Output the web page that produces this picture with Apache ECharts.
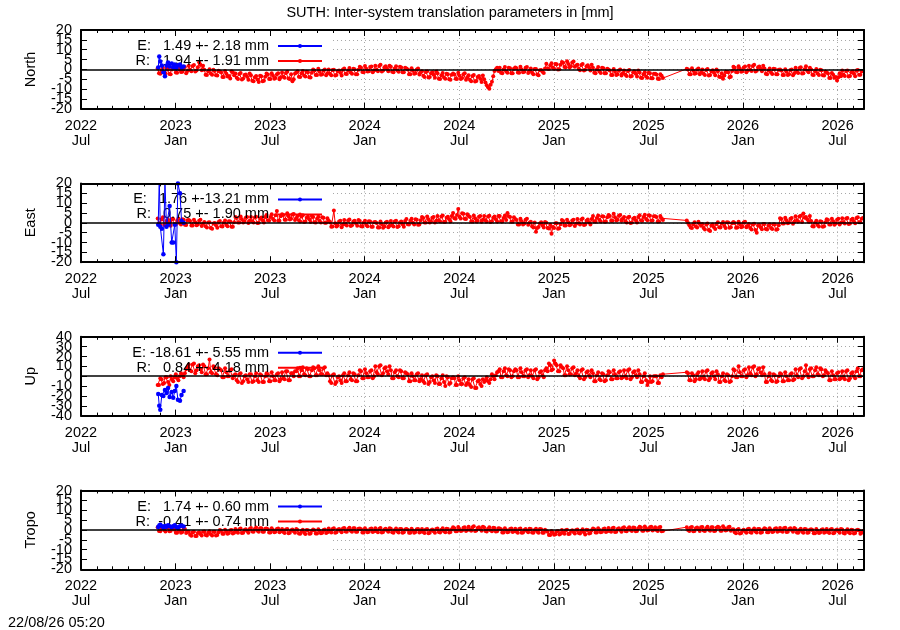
<!DOCTYPE html>
<html><head><meta charset="utf-8">
<script src="https://cdn.jsdelivr.net/npm/echarts@6/dist/echarts.min.js"></script>
<style>html,body{margin:0;padding:0;background:#fff}#c{width:900px;height:630px}</style>
</head><body><div id="c"></div>
<script>
const FONT = "'Liberation Sans', Arial, Helvetica, sans-serif";
const chartTitle = 'SUTH: Inter-system translation parameters in [mm]';
const stamp = '22/08/26 05:20';
const panelNames = ['North', 'East', 'Up', 'Tropo'];
const monthNames = ['Jan','Feb','Mar','Apr','May','Jun','Jul','Aug','Sep','Oct','Nov','Dec'];
const axisStart = '2022-07-01';
const axisEndDays = 1511;
const tickStepDays = 182.5;
const yRanges = [[-20, 20, 5], [-20, 20, 5], [-40, 40, 10], [-20, 20, 5]];
const eLabels = ['E:   1.49 +- 2.18 mm', 'E:   1.76 +-13.21 mm', 'E: -18.61 +- 5.55 mm', 'E:   1.74 +- 0.60 mm'];
const rLabels = ['R:  -1.94 +- 1.91 mm', 'R:   0.75 +- 1.90 mm', 'R:   0.84 +- 4.18 mm', 'R:  -0.41 +- 0.74 mm'];
const gridMaskEnd = '2023-10-28';

// E (blue) solutions
const eDates = ['2022-11-27','2022-11-29','2022-12-01','2022-12-04','2022-12-07','2022-12-10','2022-12-13','2022-12-16','2022-12-19','2022-12-23','2022-12-26','2022-12-29','2023-01-01','2023-01-04','2023-01-08','2023-01-11','2023-01-15'];
const northE = [1.0,6.5,4.0,2.0,-1.5,-3.5,2.0,3.5,1.5,3.0,1.0,2.5,0.5,2.0,2.5,1.0,1.5];
const eastE  = [-1,22,-2,-3,-16,21,-2,-1,8.5,-10,-10,-1,-20,20,15,1,0];
const upE    = [-18,-30,-34,-19,-20,-14,-17,-12,-21,-16,-22,-15,-10,-24,-25,-19,-15];
const tropoE = [1.5,2.2,2.6,1.9,1.2,2.0,1.6,2.4,1.8,1.3,1.9,2.3,1.5,1.0,1.8,2.2,1.7];

// R (red) solutions: runs of 5-day samples (R1 before / R2 after the 2025 data gap),
// plus the samples lying half-way between them (M1 / M2)
const rStart1 = '2022-11-26';
const rStart2 = '2025-09-12';
const rStepDays = 5;
const northR1 = [0.6,-2.2,0.9,-1.9,-0.1,-2.5, 1.1,-1.6,1.4,-1.3,0.2,-1.9, 1.8,-0.9,2.2,-0.6,3.6,-0.4, -0.2,-2.9,0.1,-2.7,-0.8,-3.1,
 -1.1,-3.9,-0.8,-3.6,-4.6,-1.4, -2.1,-4.9,-1.8,-4.6,-2.6,-5.2, -3.0,-6.0,-3.3,-6.4,-3.5,-5.8, -2.1,-4.9,-1.9,-4.7,-2.4,-5.0,
 -1.6,-4.3,-1.2,-4.9,-6.0,-2.1, -1.0,-3.9,-0.8,-3.6,-1.4,-4.1, -0.1,-2.9,0.3,-2.7,-0.5,-3.0, 0.0,-3.0,-0.2,-2.8,-0.6,-3.1,
 0.4,-2.3,0.7,-2.2,0.1,-2.5, 1.4,-1.3,1.7,-1.1,1.2,-1.4, 1.9,-0.9,2.3,-0.6,1.6,-1.0, 1.3,-1.4,1.6,-1.2,1.0,-1.5,
 0.4,-2.4,0.6,-2.2,-0.1,-2.6, -1.0,-3.8,-0.9,-3.9,-1.5,-4.2, -2.0,-4.9,-1.8,-4.8,-2.4,-5.2, -2.1,-4.8,-1.7,-4.9,-2.5,-5.3,
 -3.0,-6.0,-2.8,-5.9,-3.4,-6.4, -5.0,-8.0,-9.8,-6.3,-0.8,0.8, 0.9,-1.9,1.2,-1.7,0.6,-2.0, 1.0,-1.6,1.4,-1.5,0.8,-1.8,
 0.4,-2.4,0.2,-3.0,-0.3,-1.8, 2.9,0.2,3.1,0.3,2.6,0.1, 3.8,1.2,4.2,1.0,3.5,1.3, 2.4,-0.4,2.7,-0.2,2.1,-0.5,
 0.9,-1.9,1.2,-1.8,0.6,-2.0, -0.1,-2.9,0.2,-2.8,-0.5,-3.1, -0.6,-3.4,-0.3,-3.3,-1.0,-3.6, -1.6,-4.4,-1.4,-4.3,-2.0,-4.5,
 -2.2,-4.8,-2.5,-4.4];
const northM1 = [-2.0,-0.3,-1.4,0.5,-2.3,0.0, 0.6,-1.7,0.0,-1.2,1.2,-0.8, -0.2,1.7,-1.1,1.1,2.4,1.9, -2.7,-1.0,-2.1,-0.2,-3.0,-0.7,
 -1.6,-3.9,-2.2,-3.4,-1.0,-3.0, -4.2,-2.3,-5.1,-2.9,-3.7,-2.1, -5.7,-4.0,-5.1,-3.2,-6.0,-3.7, -2.6,-4.9,-3.2,-4.4,-2.0,-4.0,
 -3.7,-1.8,-4.6,-2.4,-5.0,-1.6, -3.7,-2.0,-3.1,-1.2,-4.0,-1.7, -0.6,-2.9,-1.2,-2.4,0.0,-2.0, -2.2,-0.3,-3.1,-0.9,-1.7,-0.1,
 -2.2,-0.5,-1.6,0.3,-2.5,-0.2, 0.9,-1.4,0.3,-0.9,1.5,-0.5, -0.2,1.7,-1.1,1.1,0.3,1.9, -1.2,0.5,-0.6,1.3,-1.5,0.8,
 -0.1,-2.4,-0.7,-1.9,0.5,-1.5, -3.2,-1.3,-4.1,-1.9,-2.7,-1.1, -4.7,-3.0,-4.1,-2.2,-5.0,-2.7, -2.6,-4.9,-3.2,-4.4,-2.0,-4.0,
 -5.2,-3.3,-6.1,-3.9,-4.7,-3.1, -6.6,-9.0,-7.8,-3.5,0.1,-0.8, -1.7,0.0,-1.1,0.8,-2.0,0.3, 0.6,-1.7,0.0,-1.2,1.2,-0.8,
 -1.7,0.2,-2.6,-0.4,-1.2,0.4, 0.3,2.0,0.9,2.8,0.0,2.3, 3.4,1.1,2.8,1.6,4.0,2.0, 0.3,2.2,-0.6,1.6,0.8,2.4,
 -1.7,0.0,-1.1,0.8,-2.0,0.3, -0.6,-2.9,-1.2,-2.4,0.0,-2.0, -2.7,-0.8,-3.6,-1.4,-2.2,-0.6, -4.2,-2.5,-3.6,-1.7,-4.5,-2.2,
 -2.6,-4.9,-3.2];
const northR2 = [0.3,-2.4,0.6,-2.2,0.0,-2.5, -0.1,-2.8,0.2,-2.9,-0.4,-3.0, -1.0,-3.8,-4.8,-1.3,-1.5,-3.7, 1.3,-1.3,1.6,-1.2,1.0,-1.5,
 1.8,-0.8,2.4,-0.7,1.5,-1.0, 0.4,-2.4,0.5,-2.3,0.2,-2.5, -0.1,-2.9,0.1,-2.8,-0.3,-3.0, 0.9,-1.8,1.1,-1.9,1.6,-1.4,
 -0.1,-2.9,0.2,-2.8,-0.4,-3.1, -1.5,-4.4,-1.8,-4.3,-5.6,-2.0, -0.6,-3.4,-0.5,-3.3,-0.9,-3.5, -0.3,-2.7,-0.9];
const northM2 = [-0.1,-2.4,-0.7,-1.9,0.5,-1.5, -2.2,-0.3,-3.1,-0.9,-1.7,-0.1, -3.7,-2.0,-3.1,-1.2,-4.0,-0.8, 0.9,-1.4,0.3,-0.9,1.5,-0.5,
 -0.2,1.7,-1.1,1.1,0.3,1.9, -2.2,-0.5,-1.6,0.3,-2.5,-0.2, -0.6,-2.9,-1.2,-2.4,0.0,-2.0, -1.2,0.7,-2.1,0.1,-0.7,0.9,
 -2.7,-1.0,-2.1,-0.2,-3.0,-1.2, -2.1,-4.4,-2.7,-3.9,-4.0,-3.5, -2.7,-0.8,-3.6,-1.4,-2.2,-0.6, -2.7,-1.0];
const eastR1 = [2.2,-1.0,2.8,-0.8,1.6,-1.5, 1.9,-0.9,2.2,-0.8,1.6,-1.1, 1.4,-1.4,1.6,-1.3,1.0,-1.6, 0.4,-2.4,0.3,-3.0,-0.1,-2.5,
 0.9,-1.9,1.2,-1.8,0.6,-2.0, 2.9,0.1,3.2,0.2,2.6,-0.1, 3.0,0.2,3.1,0.0,2.7,0.1, 3.9,1.1,4.3,1.2,6.0,1.0,
 4.4,1.6,4.8,1.7,4.2,1.4, 3.4,0.6,3.8,0.7,3.1,0.4, 2.9,0.1,3.1,0.2,2.6,0.0, 1.0,-2.0,6.2,-1.9,0.7,-2.2,
 1.4,-1.4,1.7,-1.3,1.1,-1.5, 0.9,-1.9,1.1,-1.8,0.6,-2.0, 0.4,-2.4,0.6,-2.5,0.1,-2.3, 0.9,-1.9,1.0,-1.8,0.6,-2.0,
 1.9,-0.9,2.1,-0.8,1.6,-0.9, 2.9,0.1,3.2,0.1,2.6,0.2, 3.4,0.6,3.7,0.5,3.1,0.7, 5.0,2.0,7.0,2.2,4.6,1.9,
 3.5,0.6,3.7,0.7,3.1,0.5, 3.4,0.6,3.6,0.8,3.2,0.7, 3.5,0.7,3.7,5.0,3.0,0.6, 1.9,-0.9,2.1,-0.8,1.5,-1.0,
 0.5,-2.4,-4.5,-2.1,0.3,-2.4, 0.0,-2.9,-5.6,-2.6,-0.2,-2.8, 1.4,-1.4,1.6,-1.3,1.2,-1.6, 1.9,-0.9,2.2,-0.9,1.7,-0.8,
 3.4,0.5,3.7,0.7,3.2,0.6, 3.9,1.1,4.6,1.2,3.6,1.0, 2.9,0.1,3.1,0.2,2.6,0.1, 3.8,1.1,4.1,1.3,3.6,1.2,
 3.3,0.7,3.5,1.4];
const eastM1 = [-0.2,1.7,-1.1,1.1,0.3,1.9, -0.7,1.0,-0.1,1.8,-1.0,1.3, 0.9,-1.4,0.3,-0.9,1.5,-0.5, -1.7,0.2,-2.6,-0.4,-1.2,0.4,
 -1.7,0.0,-1.1,0.8,-2.0,0.3, 2.4,0.1,1.8,0.6,3.0,1.0, 0.8,2.7,-0.1,2.1,1.3,2.9, 1.3,3.0,1.9,3.8,1.0,3.3,
 3.9,1.6,3.3,2.1,4.5,2.5, 1.3,3.2,0.4,2.6,1.8,3.4, 0.3,2.0,0.9,2.8,0.0,2.3, 0.4,-1.9,-0.2,-1.4,1.0,-1.0,
 -0.7,1.2,-1.6,0.6,-0.2,1.4, -1.7,0.0,-1.1,0.8,-2.0,0.3, -0.1,-2.4,-0.7,-1.9,0.5,-1.5, -1.2,0.7,-2.1,0.1,-0.7,0.9,
 -0.7,1.0,-0.1,1.8,-1.0,1.3, 2.4,0.1,1.8,0.6,3.0,1.0, 1.3,3.2,0.4,2.6,1.8,3.4, 2.3,4.0,2.9,4.8,2.0,4.3,
 2.9,0.6,2.3,1.1,3.5,1.5, 1.3,3.2,0.4,2.6,1.8,3.4, 0.8,2.5,1.4,3.3,0.5,2.8, 1.4,-0.9,0.8,-0.4,2.0,0.0,
 -1.7,0.2,-2.6,-0.4,-1.2,0.4, -2.7,-1.0,-2.1,-0.2,-3.0,-0.7, 0.9,-1.4,0.3,-0.9,1.5,-0.5, -0.2,1.7,-1.1,1.1,0.3,1.9,
 0.8,2.5,1.4,3.3,0.5,2.8, 3.4,1.1,2.8,1.6,4.0,2.0, 0.8,2.7,-0.1,2.1,1.3,2.9, 1.3,3.0,1.9,3.8,1.0,3.3,
 2.9,0.6,2.3];
const eastR2 = [1.2,-1.2,-2.6,0.3,-2.4,-0.6, -0.6,-3.4,-0.4,-4.2,-0.9,-3.2, 0.3,-2.4,0.4,-2.6,0.1,-2.3, 0.4,-2.5,0.5,-2.3,0.2,-2.2,
 -0.6,-3.4,-0.5,-5.0,-1.1,-3.3, -0.6,-3.4,-0.7,-3.2,-0.9,-3.3, 2.3,-0.4,2.6,-0.2,2.1,-0.5, 3.3,0.6,3.6,4.7,3.0,0.5,
 0.9,-1.9,1.0,-1.9,0.5,-1.8, 1.8,-0.9,2.0,-1.0,1.6,-0.8, 2.3,-0.4,2.5,-0.3,2.1,-0.2, 2.8,0.3,2.4];
const eastM2 = [-0.1,-2.4,-0.7,-1.9,0.5,-1.5, -2.7,-0.8,-3.6,-1.4,-2.2,-0.6, -2.2,-0.5,-1.6,0.3,-2.5,-0.2, -0.1,-2.4,-0.7,-1.9,0.5,-1.5,
 -2.7,-0.8,-3.6,-1.4,-2.2,-0.6, -3.2,-1.5,-2.6,-0.7,-3.5,-1.2, 1.9,-0.4,1.3,0.1,2.5,0.5, 1.3,3.2,0.4,2.6,1.8,3.4,
 -1.7,0.0,-1.1,0.8,-2.0,0.3, 1.4,-0.9,0.8,-0.4,2.0,0.0, 0.3,2.2,-0.6,1.6,0.8,2.4, 0.3,2.0];
const upR1 = [-9,-2,-8,-1,-6,0, -5,2,-4,3,-1,7, 12,5,13,6,11,4, 10,2,17,3,9,1,
 7,-1,8,0,6,-2, 2,-6,3,-5,1,-6, 2,-5,3,-6,1,-6, 3,-5,4,-4,2,-5,
 4,-3,5,-4,3,5, 8,0,9,1,7,0, 9,1,10,2,8,1, 1,-7,2,-6,0,-7,
 3,-5,4,-4,2,-5, 6,-2,7,-1,5,-2, 10,2,11,3,9,2, 6,-2,6,-1,5,-2,
 3,-5,3,-4,2,-5, 1,-7,2,-6,0,-7, 0,-8,1,-10,-1,-7, -1,-9,0,-8,-2,-9,
 -3,-11,-2,-12,-4,-10, -6,-1,-7,2,-3,4, 7,-1,8,0,6,0, 7,-1,8,0,6,-1,
 6,-2,7,-1,5,-1, 8,13,6,16,11,5, 9,1,10,2,8,1, 6,-2,7,-1,5,-1,
 3,-5,4,-4,2,-4, 5,-3,6,-2,4,-2, 6,-2,7,-1,5,-1, 2,-6,3,-9,0,-5,
 0,-7,1,2];
const upM1 = [-9,-3,-7,-1,-9,-3, -1,-2,0,1,3,9, 6,12,3,10,7,12, 2,8,4,10,2,8,
 6,-1,4,0,7,1, -4,2,-7,0,-3,2, -6,0,-4,2,-6,0, 2,-5,0,-4,3,-3,
 -2,5,-4,3,0,5, 0,6,2,8,0,6, 8,1,6,2,9,3, -5,1,-8,-1,-4,1,
 -5,1,-3,3,-5,1, 5,-2,3,-1,6,0, 4,10,1,8,5,10, -2,4,0,6,-2,4,
 2,-5,0,-4,3,-3, -5,1,-8,-1,-4,1, -8,-2,-6,0,-8,-2, -2,-9,-4,-8,-1,-7,
 -9,-3,-12,-5,-8,-3, -4,-5,-3,0,1,5, -1,5,1,7,-1,5, 6,-1,4,0,7,1,
 0,6,-3,4,1,6, 5,11,7,13,5,11, 8,1,6,2,9,3, 0,6,-3,4,1,6,
 -5,1,-3,3,-5,1, 4,-3,2,-2,5,-1, 0,6,-3,4,1,6, -6,0,-4,-6,-6,0,
 0,-7,-1];
const upR2 = [4,-4,3,-5,2,-3, 5,-3,6,-2,4,-3, 2,-6,3,-5,1,-5, 7,-1,10,0,6,-1,
 9,1,10,2,8,1, 2,-6,3,-5,1,-5, 3,-5,4,-4,2,-4, 7,-1,8,0,11,-1,
 8,0,9,1,7,1, 4,-4,5,-3,3,-3, 5,-3,6,-2,4,-2, 8,0,7];
const upM2 = [3,-4,1,-3,4,-2, -1,5,-4,3,0,5, -6,0,-4,2,-6,0, 6,-1,4,0,7,1,
 3,9,0,7,4,9, -6,0,-4,2,-6,0, 2,-5,0,-4,3,-3, 1,7,-2,5,2,7,
 0,6,2,8,0,6, 3,-4,1,-3,4,-2, -1,5,-4,3,0,5, 0,6];
const tropoR1 = [1.3,-0.7,1.5,-0.8,1.1,-0.6, 0.5,-1.5,0.6,-1.4,0.3,-1.6, -1.0,-3.0,-0.9,-3.1,-1.2,-2.8, -0.8,-2.8,-0.7,-2.9,-1.0,-2.6,
 0.0,-2.0,0.1,-1.9,-0.2,-1.8, 0.5,-1.5,0.7,-1.4,0.3,-1.4, 1.0,-1.0,1.2,-0.9,0.8,-0.9, 0.7,-1.3,0.8,-1.2,0.5,-1.2,
 0.4,-1.6,0.5,-1.5,0.2,-1.5, 0.0,-2.0,0.1,-2.1,-0.2,-1.8, 0.2,-1.8,0.3,-1.7,0.0,-1.6, 0.7,-1.3,0.9,-1.2,0.5,-1.2,
 1.0,-1.0,1.1,-0.9,0.8,-0.9, 0.7,-1.3,0.8,-1.2,0.5,-1.1, 0.8,-1.2,1.0,-1.1,0.6,-1.0, 0.6,-1.4,0.7,-1.3,0.4,-1.2,
 0.5,-1.5,0.6,-1.4,0.3,-1.3, 0.4,-1.6,0.5,-1.5,0.2,-1.4, 0.7,-1.3,0.8,-1.2,0.5,-1.1, 1.3,-0.7,1.5,-0.6,1.1,-0.6,
 1.6,-0.4,1.8,-0.3,1.4,-0.4, 1.2,-0.8,1.3,-0.7,1.0,-0.7, 0.7,-1.3,0.8,-1.2,0.5,-1.1, 0.6,-1.4,0.7,-1.3,0.4,-1.2,
 0.5,-1.5,0.6,-1.4,0.3,-1.4, -0.6,-2.6,-0.5,-2.5,-0.8,-2.3, 0.0,-2.0,0.1,-1.9,-0.2,-1.8, 0.2,-1.8,0.3,-2.3,0.0,-1.6,
 0.7,-1.3,0.8,-1.2,0.5,-1.1, 1.0,-1.0,1.1,-0.9,0.8,-0.9, 1.3,-0.7,1.4,-0.6,1.1,-0.6, 1.6,-0.4,1.7,-0.3,1.4,-0.3,
 1.4,-0.6,1.5,-0.5];
const tropoM1 = [-0.5,0.7,-0.1,1.2,-0.7,0.9, 0.1,-1.5,-0.3,-1.1,0.5,-0.9, -2.5,-1.2,-3.1,-1.6,-2.1,-1.0, -2.6,-1.4,-2.2,-0.9,-2.8,-1.2,
 -0.4,-2.0,-0.8,-1.6,0.0,-1.4, -1.0,0.3,-1.6,-0.1,-0.6,0.5, -0.8,0.4,-0.4,0.9,-1.0,0.6, 0.3,-1.3,-0.1,-0.9,0.7,-0.7,
 -1.1,0.2,-1.7,-0.2,-0.7,0.4, -1.8,-0.6,-1.4,-0.1,-2.0,-0.4, -0.2,-1.8,-0.6,-1.4,0.2,-1.2, -0.8,0.5,-1.4,0.1,-0.4,0.7,
 -0.8,0.4,-0.4,0.9,-1.0,0.6, 0.3,-1.3,-0.1,-0.9,0.7,-0.7, -0.7,0.6,-1.3,0.2,-0.3,0.8, -1.2,0.0,-0.8,0.5,-1.4,0.2,
 0.1,-1.5,-0.3,-1.1,0.5,-0.9, -1.1,0.2,-1.7,-0.2,-0.7,0.4, -1.1,0.1,-0.7,0.6,-1.3,0.3, 0.9,-0.7,0.5,-0.3,1.3,-0.1,
 0.1,1.4,-0.5,1.0,0.5,1.6, -0.6,0.6,-0.2,1.1,-0.8,0.8, 0.3,-1.3,-0.1,-0.9,0.7,-0.7, -0.9,0.4,-1.5,0.0,-0.5,0.6,
 -1.3,-0.1,-0.9,0.4,-1.5,0.1, -1.0,-2.6,-1.4,-2.2,-0.6,-2.0, -1.5,-0.2,-2.1,-0.6,-1.1,0.0, -1.6,-0.4,-1.2,0.1,-1.8,-0.2,
 0.3,-1.3,-0.1,-0.9,0.7,-0.7, -0.5,0.8,-1.1,0.4,-0.1,1.0, -0.5,0.7,-0.1,1.2,-0.7,0.9, 1.2,-0.4,0.8,0.0,1.6,0.2,
 -0.1,1.2,-0.7];
const tropoR2 = [1.4,-0.6,1.5,-0.5,1.2,-0.5, 1.5,-0.5,1.6,-0.4,1.3,-0.4, 1.6,-0.4,1.8,-0.3,1.4,-0.4, 0.3,-1.7,0.4,-1.6,0.1,-1.5,
 0.6,-1.4,0.7,-1.3,0.4,-1.2, 0.8,-1.2,0.9,-1.1,0.6,-1.0, 1.0,-1.0,1.1,-0.9,0.8,-0.9, 0.5,-1.5,0.6,-1.4,0.3,-1.3,
 0.3,-1.7,0.4,-1.6,0.1,-1.5, 0.4,-1.6,0.5,-1.5,0.2,-1.4, 0.2,-1.8,0.3,-1.7,0.0,-1.6, 0.1,-1.9,-0.6];
const tropoM2 = [-0.1,1.2,-0.7,0.8,0.3,1.4, -0.3,0.9,0.1,1.4,-0.5,1.1, 1.2,-0.4,0.8,0.0,1.6,0.2, -1.2,0.1,-1.8,-0.3,-0.8,0.3,
 -1.2,0.0,-0.8,0.5,-1.4,0.2, 0.4,-1.2,0.0,-0.8,0.8,-0.6, -0.5,0.8,-1.1,0.4,-0.1,1.0, -1.3,-0.1,-0.9,0.4,-1.5,0.1,
 -0.1,-1.7,-0.5,-1.3,0.3,-1.1, -1.1,0.2,-1.7,-0.2,-0.7,0.4, -1.6,-0.4,-1.2,0.1,-1.8,-0.2, -0.3,-1.5];

// ---- build ----
const DAY = 86400000;
const base = Date.parse(axisStart + 'T00:00:00Z');
const toDay = s => (Date.parse(s + 'T00:00:00Z') - base) / DAY;
const run = (start, offset, vals) => { const d0 = toDay(start) + offset; return vals.map((v, i) => [d0 + i * rStepDays, v]); };
const redPairs = (r1, m1, r2, m2) =>
  run(rStart1, 0, r1).concat(run(rStart1, rStepDays / 2, m1), run(rStart2, 0, r2), run(rStart2, rStepDays / 2, m2))
    .sort((a, b) => a[0] - b[0]);
const eDays = eDates.map(toDay);
const bluePairs = vals => vals.map((v, i) => [eDays[i], v]);

const panels = [
  {e: northE, r: redPairs(northR1, northM1, northR2, northM2)},
  {e: eastE, r: redPairs(eastR1, eastM1, eastR2, eastM2)},
  {e: upE, r: redPairs(upR1, upM1, upR2, upM2)},
  {e: tropoE, r: redPairs(tropoR1, tropoM1, tropoR2, tropoM2)}
];

const gridTops = [30, 183.4, 336.8, 490.5];
const gridH = 78.8;
const txt = {color: '#000', fontFamily: FONT, fontSize: 14.5};
const gridLine = {color: '#a8a8a8', width: 1, type: [1, 3]};
const frame = {color: '#000', width: 2};
const tickLine = {color: '#000', width: 1};

function xLabel(v) {
  const k = v / tickStepDays;
  if (Math.abs(k - Math.round(k)) > 1e-6) return '';
  const t = new Date(base + (v + 15) * DAY);
  return t.getUTCFullYear() + '\n' + monthNames[t.getUTCMonth()];
}
// y tick labels overlap in the original; split them over two axes (even / odd steps)
const yLabel = (ymin, ystep, parity) => v => {
  const k = Math.round((v - ymin) / ystep);
  return (k % 2 === parity) ? String(v) : '';
};

const grid = [], xAxis = [], yAxis = [], series = [], legend = [];
panels.forEach((p, i) => {
  const [ymin, ymax, ystep] = yRanges[i];
  grid.push({left: 81, right: 36, top: gridTops[i], height: gridH, show: false, containLabel: false, outerBoundsMode: 'none'});
  const xb = {type: 'value', gridIndex: i, min: 0, max: axisEndDays, interval: tickStepDays, silent: true};
  xAxis.push(Object.assign({}, xb, {position: 'bottom', z: 0,
    axisLine: {show: false}, axisTick: {show: false},
    splitLine: {show: true, lineStyle: gridLine},
    axisLabel: Object.assign({}, txt, {formatter: xLabel, margin: 9.5, lineHeight: 15, showMaxLabel: false, showMinLabel: true, hideOverlap: false})}));
  ['bottom', 'top'].forEach(pos => xAxis.push(Object.assign({}, xb, {position: pos, z: 6,
    axisLine: {show: true, onZero: false, lineStyle: frame},
    axisTick: {show: true, inside: true, length: 6, lineStyle: tickLine},
    minorTick: {show: true, splitNumber: 6, length: 3, lineStyle: tickLine},
    splitLine: {show: false}, axisLabel: {show: false}})));
  const yb = {type: 'value', gridIndex: i, min: ymin, max: ymax, interval: ystep, silent: true};
  yAxis.push(Object.assign({}, yb, {position: 'left', z: 0,
    name: panelNames[i], nameLocation: 'middle', nameGap: 43, nameTextStyle: txt,
    axisLine: {show: false}, axisTick: {show: false},
    splitLine: {show: true, lineStyle: gridLine},
    axisLabel: Object.assign({}, txt, {margin: 9, hideOverlap: false, showMinLabel: true, showMaxLabel: true, formatter: yLabel(ymin, ystep, 0)})}));
  yAxis.push(Object.assign({}, yb, {position: 'left', z: 6,
    axisLine: {show: true, onZero: false, lineStyle: frame},
    axisTick: {show: true, inside: true, length: 6, lineStyle: tickLine},
    splitLine: {show: false},
    axisLabel: Object.assign({}, txt, {margin: 9, hideOverlap: false, showMinLabel: false, showMaxLabel: false, formatter: yLabel(ymin, ystep, 1)})}));
  yAxis.push(Object.assign({}, yb, {position: 'right', z: 6,
    axisLine: {show: true, onZero: false, lineStyle: frame},
    axisTick: {show: true, inside: true, length: 6, lineStyle: tickLine},
    splitLine: {show: false}, axisLabel: {show: false}}));
  const xi = 3 * i, yi = 3 * i;
  // white backdrop hiding the grid under the key region
  series.push({type: 'line', xAxisIndex: xi, yAxisIndex: yi, data: [], z: 1, silent: true,
    markArea: {silent: true, itemStyle: {color: '#fff', opacity: 1}, label: {show: false},
      data: [[{xAxis: 0, yAxis: ymin}, {xAxis: toDay(gridMaskEnd), yAxis: ymax}]]}});
  series.push({type: 'line', name: rLabels[i], xAxisIndex: xi, yAxisIndex: yi, data: p.r, z: 3,
    symbol: 'circle', symbolSize: 4, showSymbol: true, showAllSymbol: true,
    itemStyle: {color: '#ff0000'}, lineStyle: {color: '#ff0000', width: 1}, emphasis: {disabled: true}});
  series.push({type: 'line', name: eLabels[i], xAxisIndex: xi, yAxisIndex: yi, data: bluePairs(p.e), z: 4,
    symbol: 'circle', symbolSize: 4.5, showSymbol: true, showAllSymbol: true,
    itemStyle: {color: '#0000ff'}, lineStyle: {color: '#0000ff', width: 1}, emphasis: {disabled: true}});
  series.push({type: 'line', xAxisIndex: xi, yAxisIndex: yi, data: [], z: 5, silent: true,
    markLine: {silent: true, symbol: ['none', 'none'], label: {show: false},
      lineStyle: {color: '#000', width: 1.6, type: 'solid'}, emphasis: {disabled: true},
      data: [{yAxis: 0}]}});
  legend.push({orient: 'vertical', align: 'right', right: 900 - 323, top: gridTops[i] + 8.5,
    padding: 0, itemGap: 0, itemWidth: 44, itemHeight: 5, selectedMode: false,
    data: [eLabels[i], rLabels[i]], formatter: n => n + ' ',
    textStyle: Object.assign({}, txt, {lineHeight: 15})});
});

const chart = echarts.init(document.getElementById('c'), null, {renderer: 'canvas'});
chart.setOption({
  animation: false,
  backgroundColor: '#fff',
  title: [
    {text: chartTitle, left: 'center', top: 5, padding: 0, textStyle: Object.assign({}, txt, {fontWeight: 'normal', lineHeight: 15})},
    {text: stamp, left: 8, top: 615.5, padding: 0, textStyle: Object.assign({}, txt, {fontWeight: 'normal', lineHeight: 15})}
  ],
  tooltip: {show: false},
  legend, grid, xAxis, yAxis, series
});
</script></body></html>
